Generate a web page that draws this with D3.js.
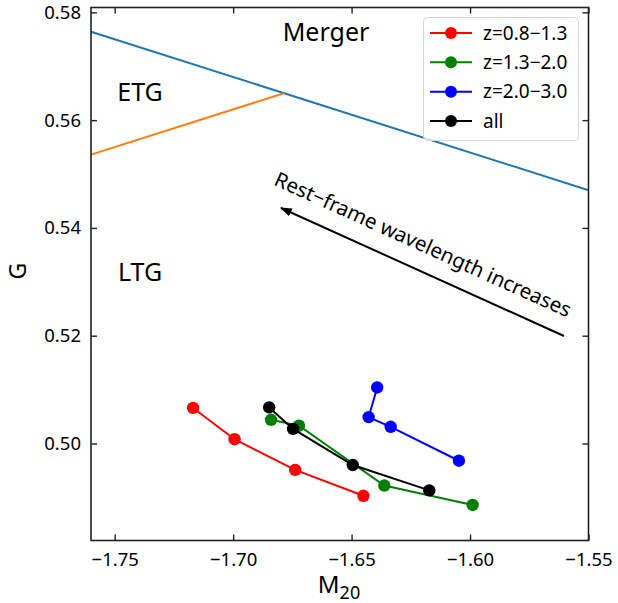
<!DOCTYPE html>
<html>
<head>
<meta charset="utf-8">
<script src="https://cdn.jsdelivr.net/npm/d3@7"></script>
<style>
  body { margin: 0; background: #fff; }
  svg text { font-family: "Noto Sans", "DejaVu Sans", sans-serif; fill: #000; }
</style>
</head>
<body>
<svg id="chart" width="618" height="603"></svg>
<script>
// series: M20 and G values per redshift bin
const series = ['z=0.8\u22121.3', 'z=1.3\u22122.0', 'z=2.0\u22123.0', 'all'];
const seriesColors = ['#ff0000', '#008000', '#0000ff', '#000000'];
const m20Values = [
	[-1.7169, -1.6994, -1.6738, -1.6450],
	[-1.6840, -1.6722, -1.6362, -1.5989],
	[-1.6392, -1.6428, -1.6335, -1.6047],
	[-1.6848, -1.6747, -1.6495, -1.6172]
];
const gValues = [
	[0.5066, 0.5008, 0.4951, 0.4903],
	[0.5044, 0.5033, 0.4922, 0.4886],
	[0.5104, 0.5049, 0.5031, 0.4968],
	[0.5067, 0.5027, 0.4960, 0.4913]
];
const xTicks = [-1.75, -1.70, -1.65, -1.60, -1.55];
const yTicks = [0.50, 0.52, 0.54, 0.56, 0.58];

// classification lines (Lotz et al.)
const mergerLine = m => -0.14 * m + 0.33;
const etgLine = m => 0.14 * m + 0.80;
const mCross = (0.33 - 0.80) / 0.28;

const svg = d3.select('#chart');
const pLeft = 91, pRight = 588.5, pTop = 7.5, pBottom = 540.5;

const x = d3.scaleLinear().domain([-1.76, -1.55]).range([pLeft, pRight]);
const y = d3.scaleLinear().domain([0.482, 0.5809]).range([pBottom, pTop]);

const fmt = d => d3.format('.2f')(d).replace('-', '\u2212');

// division lines
const line = d3.line().x(d => x(d[0])).y(d => y(d[1]));
svg.append('path')
	.datum([[-1.76, mergerLine(-1.76)], [-1.55, mergerLine(-1.55)]])
	.attr('d', line).attr('fill', 'none')
	.attr('stroke', '#1f77b4').attr('stroke-width', 2);
svg.append('path')
	.datum([[-1.76, etgLine(-1.76)], [mCross, etgLine(mCross)]])
	.attr('d', line).attr('fill', 'none')
	.attr('stroke', '#ff7f0e').attr('stroke-width', 2);

// region labels
svg.append('text').attr('x', 326).attr('y', 41).attr('text-anchor', 'middle')
	.attr('font-size', 25).text('Merger');
svg.append('text').attr('x', 140).attr('y', 101).attr('text-anchor', 'middle')
	.attr('font-size', 25).text('ETG');
svg.append('text').attr('x', 140).attr('y', 281).attr('text-anchor', 'middle')
	.attr('font-size', 25).text('LTG');

// arrow
svg.append('defs').append('marker')
	.attr('id', 'head').attr('viewBox', '0 0 10 10')
	.attr('refX', 9).attr('refY', 5)
	.attr('markerWidth', 6).attr('markerHeight', 6)
	.attr('markerUnits', 'strokeWidth')
	.attr('orient', 'auto')
	.append('path').attr('d', 'M0,1.5 L10,5 L0,8.5 Z').attr('fill', '#000');
svg.append('line')
	.attr('x1', 564).attr('y1', 336).attr('x2', 281).attr('y2', 208)
	.attr('stroke', '#000').attr('stroke-width', 2)
	.attr('marker-end', 'url(#head)');
const ang = Math.atan2(336 - 208, 564 - 281) * 180 / Math.PI;
svg.append('text')
	.attr('transform', `translate(420,251) rotate(${ang})`)
	.attr('text-anchor', 'middle').attr('font-size', 20.5)
	.text('Rest\u2212frame wavelength increases');

// data series
series.forEach((name, i) => {
	const pts = m20Values[i].map((m, j) => [m, gValues[i][j]]);
	svg.append('path').datum(pts).attr('d', line)
		.attr('fill', 'none').attr('stroke', seriesColors[i]).attr('stroke-width', 2);
	svg.append('g').selectAll('circle').data(pts).join('circle')
		.attr('cx', d => x(d[0])).attr('cy', d => y(d[1])).attr('r', 6.2)
		.attr('fill', seriesColors[i]);
});

// frame
svg.append('rect').attr('x', pLeft).attr('y', pTop)
	.attr('width', pRight - pLeft).attr('height', pBottom - pTop)
	.attr('fill', 'none').attr('stroke', '#222').attr('stroke-width', 1.6);

// axes with inward ticks
const tickLen = 6;
const xAxisB = svg.append('g').attr('transform', `translate(0,${pBottom})`)
	.call(d3.axisBottom(x).tickValues(xTicks).tickSize(-tickLen).tickPadding(12).tickFormat(fmt));
const xAxisT = svg.append('g').attr('transform', `translate(0,${pTop})`)
	.call(d3.axisTop(x).tickValues(xTicks).tickSize(-tickLen).tickFormat(''));
const yAxisL = svg.append('g').attr('transform', `translate(${pLeft},0)`)
	.call(d3.axisLeft(y).tickValues(yTicks).tickSize(-tickLen).tickPadding(10).tickFormat(fmt));
const yAxisR = svg.append('g').attr('transform', `translate(${pRight},0)`)
	.call(d3.axisRight(y).tickValues(yTicks).tickSize(-tickLen).tickFormat(''));
[xAxisB, xAxisT, yAxisL, yAxisR].forEach(a => {
	a.select('.domain').remove();
	a.selectAll('.tick line').attr('stroke', '#222').attr('stroke-width', 1.4);
	a.selectAll('.tick text').attr('font-size', 18.5).attr('font-family', '"Noto Sans", sans-serif').attr('fill', '#000');
});

// axis labels
svg.append('text').attr('transform', 'translate(26,271) rotate(-90)')
	.attr('text-anchor', 'middle').attr('font-size', 23).text('G');
const xl = svg.append('text').attr('x', 339).attr('y', 593)
	.attr('text-anchor', 'middle').attr('font-size', 24);
xl.append('tspan').text('M');
xl.append('tspan').attr('font-size', 18).attr('dy', 6).text('20');

// legend
const lg = svg.append('g');
lg.append('rect').attr('x', 423.5).attr('y', 17.5).attr('width', 155).attr('height', 123)
	.attr('rx', 4).attr('fill', '#fff').attr('fill-opacity', 0.8)
	.attr('stroke', '#d6d6d6').attr('stroke-width', 1);
const ly = d3.scalePoint().domain(series).range([33, 121]);
series.forEach((name, i) => {
	lg.append('line').attr('x1', 430).attr('x2', 472).attr('y1', ly(name)).attr('y2', ly(name))
		.attr('stroke', seriesColors[i]).attr('stroke-width', 2);
	lg.append('circle').attr('cx', 451).attr('cy', ly(name)).attr('r', 6)
		.attr('fill', seriesColors[i]);
	lg.append('text').attr('x', 483).attr('y', ly(name)).attr('dy', '0.35em')
		.attr('font-size', 19).text(name);
});
</script>
</body>
</html>
